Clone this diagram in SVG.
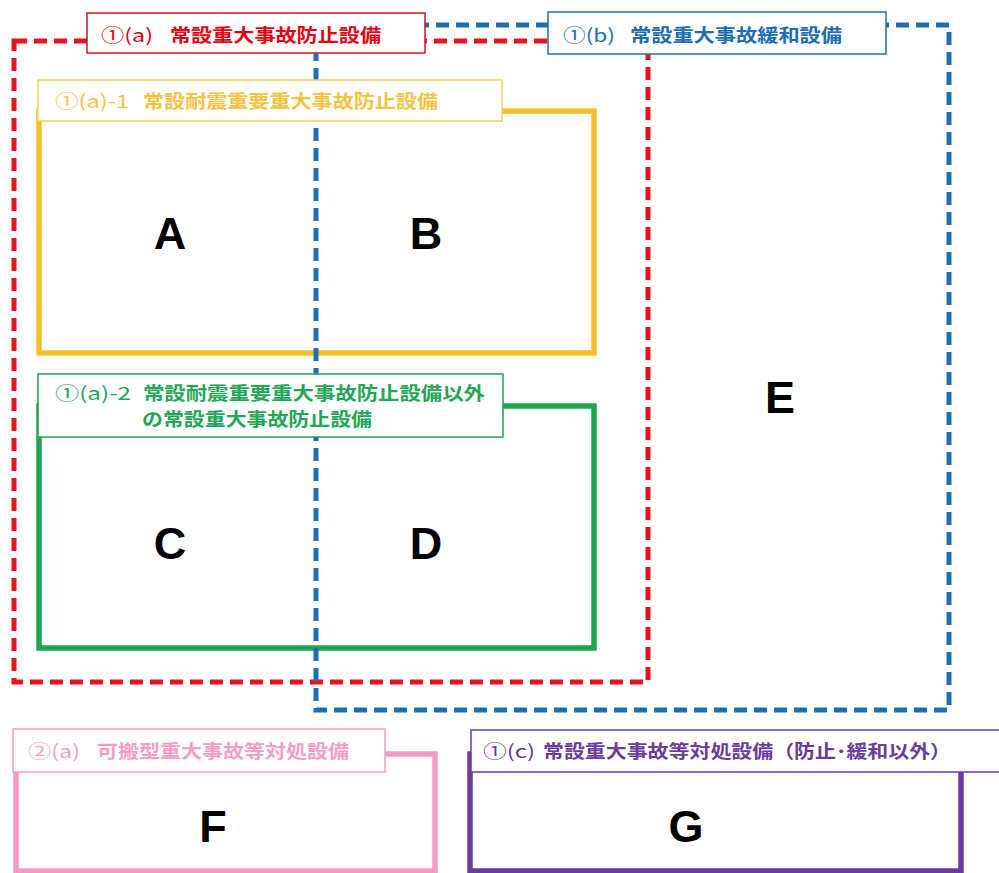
<svg xmlns="http://www.w3.org/2000/svg" width="999" height="873" viewBox="0 0 999 873">
<style>
.lbl{font-family:"Noto Sans CJK JP","Noto Sans",sans-serif;font-weight:bold;font-size:18px}
.num{font-weight:normal}
.big{font-family:"Liberation Sans",Arial,sans-serif;font-weight:bold;font-size:45px;fill:#000;text-anchor:middle}
.box{fill:#fff;stroke-width:1.5}
.dash{fill:none;stroke-width:5;stroke-dasharray:13 7}
.solid{fill:none;stroke-width:5.5}
</style>
<rect width="999" height="873" fill="#fff"/>
<g id="node-yellow"><rect class="solid" x="39" y="111" width="555" height="242" stroke="#f7c02b"/></g>
<g id="node-green"><rect class="solid" x="39" y="406" width="555" height="242" stroke="#1ca650"/></g>
<g id="node-red"><rect class="dash" x="14" y="41" width="634" height="641" stroke="#e5141d"/></g>
<g id="node-blue"><rect class="dash" x="316" y="25" width="633" height="685" stroke="#1b6db4"/></g>
<g id="node-pink"><rect class="solid" x="16" y="754" width="419" height="117" stroke="#f49cc7"/></g>
<g id="node-purple"><rect class="solid" x="470" y="754" width="491" height="117" stroke="#6b3b9d"/></g>
<g id="labels">
<g id="label-red"><rect class="box" x="87" y="13" width="338" height="40" stroke="#c8161e"/>
<text class="lbl" y="42" fill="#e60012"><tspan class="num" x="101" textLength="52" lengthAdjust="spacingAndGlyphs">①(a)</tspan><tspan x="170" textLength="211" lengthAdjust="spacingAndGlyphs">常設重大事故防止設備</tspan></text></g>
<g id="label-blue"><rect class="box" x="548" y="12" width="338" height="42" stroke="#1b6db4"/>
<text class="lbl" y="42" fill="#1b6db4"><tspan class="num" x="563" textLength="52" lengthAdjust="spacingAndGlyphs">①(b)</tspan><tspan x="630" textLength="212" lengthAdjust="spacingAndGlyphs">常設重大事故緩和設備</tspan></text></g>
<g id="label-yellow"><rect class="box" x="38" y="80" width="464" height="41" stroke="#f7cf5a"/>
<text class="lbl" y="108" fill="#f5c342"><tspan class="num" x="55" textLength="74" lengthAdjust="spacingAndGlyphs">①(a)-1</tspan><tspan x="143" textLength="295" lengthAdjust="spacingAndGlyphs">常設耐震重要重大事故防止設備</tspan></text></g>
<g id="label-green"><rect class="box" x="38" y="374" width="465" height="63" stroke="#1ca650"/>
<text class="lbl" y="400" fill="#22a757"><tspan class="num" x="55" textLength="76" lengthAdjust="spacingAndGlyphs">①(a)-2</tspan><tspan x="143" textLength="342" lengthAdjust="spacingAndGlyphs">常設耐震重要重大事故防止設備以外</tspan></text>
<text class="lbl" x="142" y="426" fill="#22a757" textLength="230" lengthAdjust="spacingAndGlyphs">の常設重大事故防止設備</text></g>
<g id="label-pink"><rect class="box" x="13" y="729" width="372" height="43" stroke="#f49cc7"/>
<text class="lbl" y="758" fill="#f49cc7"><tspan class="num" x="28" textLength="52" lengthAdjust="spacingAndGlyphs">②(a)</tspan><tspan x="97" textLength="252" lengthAdjust="spacingAndGlyphs">可搬型重大事故等対処設備</tspan></text></g>
<g id="label-purple"><rect class="box" x="471" y="730" width="540" height="42" stroke="#6b3b9d"/>
<text class="lbl" y="758" fill="#6b3b9d"><tspan class="num" x="483" textLength="52" lengthAdjust="spacingAndGlyphs">①(c)</tspan><tspan x="543" textLength="408" lengthAdjust="spacingAndGlyphs">常設重大事故等対処設備（防止･緩和以外）</tspan></text></g>
</g>
<g id="letters">
<text class="big" x="170" y="249">A</text>
<text class="big" x="426" y="249">B</text>
<text class="big" x="170" y="559">C</text>
<text class="big" x="426" y="559">D</text>
<text class="big" x="780" y="413">E</text>
<text class="big" x="213" y="842">F</text>
<text class="big" x="686" y="842">G</text>
</g>
<g id="connectors"></g>
</svg>
